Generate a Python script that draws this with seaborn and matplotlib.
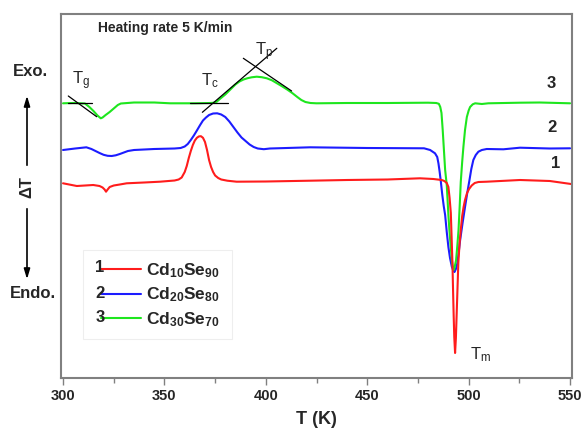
import matplotlib
matplotlib.use("Agg")
import matplotlib.pyplot as plt
from matplotlib.lines import Line2D
from matplotlib.patches import Rectangle
from matplotlib.ticker import MultipleLocator
import pandas as pd
import seaborn as sns

# ---------------- data: DTA traces, Delta T in arbitrary units ----------------
T_cd10 = [300, 306.8, 314.9, 318, 319.5, 320.5, 321.2, 322, 323, 325,
          328, 331.4, 340, 347.8, 355, 357, 358.5, 360, 361, 362,
          363, 364, 365, 366, 367, 368, 369, 370, 371, 372,
          373, 374, 375, 376.5, 378, 381, 385.6, 400, 421.8, 440,
          460, 476, 482.6, 486.7, 488, 489.2, 490, 490.6, 491.2, 491.6,
          492, 492.3, 492.6, 492.9, 493.3, 493.7, 494.1, 494.5, 494.9, 495.5,
          496.1, 496.8, 497.5, 498.2, 499.2, 500.2, 501.5, 503, 504.8, 508.9,
          525.3, 540, 550.5]
dT_cd10 = [194.7, 192, 193, 192, 190.5, 188.5, 186.3, 188.5, 191, 192.5,
           193.5, 194.7, 195.5, 196.3, 197.5, 198.5, 200.5, 206, 212, 220,
           227, 233, 237.5, 240.2, 241.6, 241.8, 240.2, 236, 228, 218,
           211, 206, 202.5, 200, 198.5, 197.3, 196.3, 196.5, 197.3, 198,
           198.5, 199.7, 199, 198, 197, 195, 191, 180, 165, 140,
           115, 88, 63, 41, 25, 40, 65, 90, 115, 134,
           148, 162, 171, 178, 185, 189, 192.5, 195, 196, 196.3,
           198, 197, 194]

T_cd20 = [300, 306, 311.5, 314, 316, 318, 320, 322, 324, 326,
          328, 330, 332, 335, 345, 355, 358, 360, 361.5, 363,
          364.5, 366, 367.6, 369, 370.5, 372, 374, 376, 378, 380,
          382, 384, 386, 388, 390, 392, 394, 396, 399, 402,
          421.8, 450, 478, 481, 483.4, 484.5, 485.1, 485.7, 486.3, 487,
          487.7, 488.4, 489.2, 490, 490.8, 491.7, 492.4, 493, 493.7, 494.4,
          495.1, 495.8, 497, 498.2, 499.3, 500.4, 501.3, 502.3, 503.5, 504.8,
          506.5, 508.9, 517.1, 525.3, 540, 550]
dT_cd20 = [228, 229.5, 230.7, 229, 227, 225, 223.2, 222.2, 222, 222.7,
           224, 225.5, 227, 228, 229, 229.5, 230, 231.5, 234, 238,
           242.5, 247.5, 253, 257.5, 260.5, 263, 264.5, 264.7, 263.5, 261,
           256.5, 251, 245.5, 240.5, 237, 233.5, 231, 229.5, 228.8, 229.5,
           230.7, 230, 229.7, 228, 224.7, 221, 214.7, 206, 196, 183,
           172, 163, 146, 131, 120, 111.3, 107.5, 106, 109, 114.7,
           126, 138, 155, 171, 185, 198, 209, 218, 223, 226.3,
           228, 229, 228.7, 230.3, 229.5, 229.7]

T_cd30 = [300, 305, 310.8, 313, 315, 317, 318.6, 319.5, 321, 323,
          325, 327, 328.5, 335, 345, 352.8, 365, 372.5, 374, 375.8,
          377, 378.5, 380, 381.5, 383, 385, 387, 389, 391, 393,
          395.5, 398, 400.5, 403, 405.5, 408, 410.5, 413, 415.5, 417.5,
          419.5, 422, 425, 440, 460, 480, 484, 485.3, 486, 486.6,
          487.2, 487.8, 488.4, 489.2, 490, 490.5, 491.2, 491.7, 492.2, 492.6,
          493.1, 493.8, 494.4, 495, 495.6, 496.1, 496.8, 497.4, 498.2, 499.1,
          500, 500.7, 502, 503.2, 506.5, 509.7, 525.3, 535, 550]
dT_cd30 = [274.7, 275, 274.5, 271, 267, 262.5, 259.7, 260.5, 263, 266,
           269.5, 273, 274.5, 275.5, 275.5, 274.7, 274.7, 275, 275.2, 276.3,
           278.5, 281, 283.5, 286.5, 289.5, 293.5, 296.5, 298.5, 299.8, 300.7,
           301.3, 300.8, 299.7, 297.7, 294.7, 291.7, 288.5, 285, 281, 278,
           276, 275, 274.7, 275, 275, 275.3, 275, 274.2, 271, 265,
           248, 228, 208, 193, 163, 148, 130, 118, 111, 108,
           111, 118, 132, 148, 173, 196, 216, 231, 248, 261,
           267.5, 271, 273.7, 274.7, 274, 274.7, 275.3, 275.5, 274.7]

sample_names = [r"$\mathbf{Cd_{10}Se_{90}}$", r"$\mathbf{Cd_{20}Se_{80}}$",
                r"$\mathbf{Cd_{30}Se_{70}}$"]
curve_numbers = ["1", "2", "3"]
colors = ["#ff1c1c", "#1c1cff", "#1ee61e"]

# construction lines for the characteristic temperatures (T, Delta T)
tg_base_T, tg_base_dT = [302.6, 314.2], [274.7, 274.7]
tg_slope_T, tg_slope_dT = [302.6, 316.6], [282, 261.3]
tc_base_T, tc_base_dT = [362.6, 381.5], [274.7, 274.7]
tc_slope_T, tc_slope_dT = [368.7, 405.4], [265.7, 329.7]
tp_slope_T, tp_slope_dT = [388.9, 412.7], [319.7, 287]

# ---------------- styling ----------------
sns.set_theme(style="white")
plt.rcParams["font.family"] = ["Liberation Sans", "DejaVu Sans"]
plt.rcParams["mathtext.fontset"] = "custom"
plt.rcParams["mathtext.rm"] = "Liberation Sans"
plt.rcParams["mathtext.it"] = "Liberation Sans:italic"
plt.rcParams["mathtext.bf"] = "Liberation Sans:bold"

W, H = 586, 432
fig = plt.figure(figsize=(W / 100, H / 100), dpi=100)
ax = fig.add_axes([61 / W, 1 - 378 / H, 510.7 / W, 364 / H])


def fx(px):
    return px / W


def fy(py):
    return 1 - py / H


frames = {
    "1": pd.DataFrame({"T": T_cd10, "dT": dT_cd10}),
    "2": pd.DataFrame({"T": T_cd20, "dT": dT_cd20}),
    "3": pd.DataFrame({"T": T_cd30, "dT": dT_cd30}),
}
# draw order: 2 under 3 under 1
for key in ["2", "3", "1"]:
    i = int(key) - 1
    sns.lineplot(data=frames[key], x="T", y="dT", color=colors[i], lw=1.5,
                 sort=False, estimator=None, ax=ax)

for xs, ys in [(tg_base_T, tg_base_dT), (tg_slope_T, tg_slope_dT),
               (tc_base_T, tc_base_dT), (tc_slope_T, tc_slope_dT),
               (tp_slope_T, tp_slope_dT)]:
    ax.plot(xs, ys, color="black", lw=0.9)

ax.set_xlim(299, 550.8)
ax.set_ylim(0, 364)
ax.set_yticks([])
ax.set_ylabel("")
ax.xaxis.set_major_locator(MultipleLocator(50))
ax.xaxis.set_minor_locator(MultipleLocator(25))
ax.tick_params(axis="x", which="major", direction="out", length=5, width=1,
               color="#808080", labelsize=10.5, pad=3, bottom=True)
ax.tick_params(axis="x", which="minor", direction="out", length=3.5, width=1,
               color="#808080", bottom=True)
for lab in ax.get_xticklabels():
    lab.set_fontweight("bold")
for sp in ax.spines.values():
    sp.set_color("#808080")
    sp.set_linewidth(1.5)
ax.set_xlabel("T (K)", fontsize=13, fontweight="bold", labelpad=6)

# annotations inside the axes
ax.text(317.3, 350, "Heating rate 5 K/min", fontsize=10, fontweight="bold",
        va="center", ha="left")
ax.text(304.6, 297, r"T$_{\mathrm{g}}$", fontsize=12, va="center", ha="left")
ax.text(368.2, 297, r"T$_{\mathrm{c}}$", fontsize=12, va="center", ha="left")
ax.text(394.5, 326, r"T$_{\mathrm{p}}$", fontsize=12, va="center", ha="left")
ax.text(500.5, 23, r"T$_{\mathrm{m}}$", fontsize=12, va="center", ha="left")
for num, (tx, ty) in zip(curve_numbers, [(542.7, 215), (541.0, 251), (540.6, 295)]):
    ax.text(tx, ty, num, fontsize=12, fontweight="bold", va="center", ha="center")

# legend: numbered entries inside a faint box
ax.add_patch(Rectangle((fx(83), fy(339)), fx(232) - fx(83), fy(250) - fy(339),
                       transform=fig.transFigure, facecolor="white",
                       edgecolor="#eeeeee", lw=0.8, zorder=4))
handles = [Line2D([], [], color=c, lw=1.5) for c in colors]
leg = ax.legend(handles, sample_names, loc="upper left",
                bbox_to_anchor=(fx(103) - 0.004, fy(261)),
                bbox_transform=fig.transFigure, fontsize=12.5,
                handlelength=2.35, handletextpad=0.25, labelspacing=0.34,
                borderpad=0.0, borderaxespad=0.0, frameon=False)
leg.set_zorder(5)
for num, py in zip(curve_numbers, [268, 293, 318]):
    fig.text(fx(100), fy(py), num, fontsize=12, fontweight="bold",
             ha="center", va="center", zorder=6)

# y-axis label: Exo / Delta T / Endo with arrows
fig.text(fx(30), fy(72), "Exo.", fontsize=12, fontweight="bold",
         ha="center", va="center")
fig.text(fx(33), fy(293), "Endo.", fontsize=12, fontweight="bold",
         ha="center", va="center")
fig.text(fx(27), fy(187), "ΔT", fontsize=12, fontweight="bold",
         rotation=90, ha="center", va="center")
arrow = dict(arrowstyle="-|>,head_length=0.5,head_width=0.15", color="black", lw=1.2)
ax.annotate("", xy=(fx(27), fy(93)), xytext=(fx(27), fy(168)),
            xycoords="figure fraction", textcoords="figure fraction",
            arrowprops=arrow, annotation_clip=False)
ax.annotate("", xy=(fx(27), fy(282)), xytext=(fx(27), fy(206)),
            xycoords="figure fraction", textcoords="figure fraction",
            arrowprops=arrow, annotation_clip=False)

fig.savefig("out.png", dpi=100)
